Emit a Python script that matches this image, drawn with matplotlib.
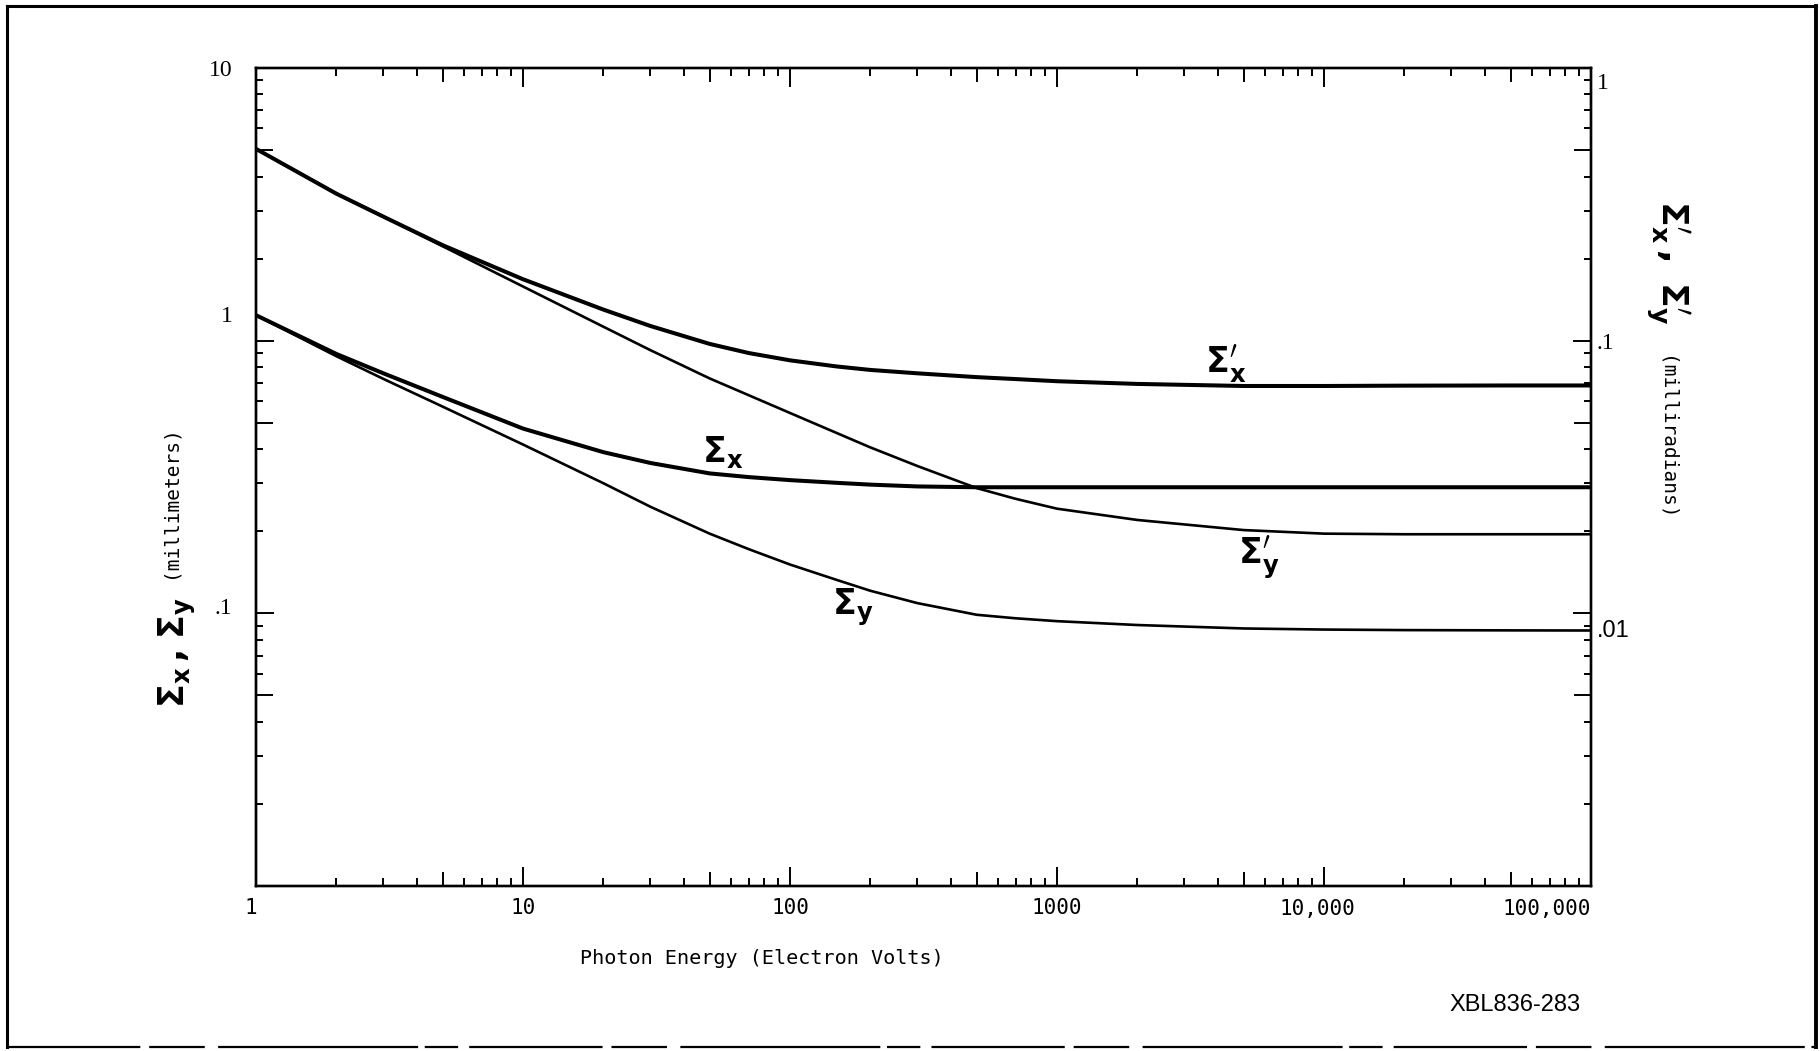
import matplotlib
matplotlib.use("Agg")
import numpy as np
import matplotlib.pyplot as plt
from matplotlib.lines import Line2D
from matplotlib.ticker import FixedLocator, NullFormatter
from matplotlib.transforms import ScaledTranslation

plt.rcParams["mathtext.fontset"] = "dejavusans"

# photon energy (eV)
energy = [1, 2, 3, 5, 10, 20, 30, 50, 70, 100, 150, 200, 300, 500, 700,
          1000, 2000, 5000, 10000, 20000, 50000, 100000]
# source size, mm (left axis)
sigma_x = [1.24, 0.894, 0.759, 0.622, 0.476, 0.390, 0.356, 0.326, 0.316, 0.308, 0.301,
           0.2965, 0.292, 0.290, 0.290, 0.290, 0.290, 0.290, 0.290, 0.290, 0.290, 0.290]
sigma_y = [1.24, 0.877, 0.724, 0.573, 0.416, 0.300, 0.246, 0.196, 0.172, 0.151, 0.1325,
           0.121, 0.109, 0.0988, 0.0959, 0.0936, 0.0906, 0.0880, 0.0872, 0.0868, 0.0866, 0.0865]
# divergence, mrad (right axis)
sigma_xp = [0.505, 0.346, 0.285, 0.224, 0.168, 0.130, 0.1132, 0.0973, 0.0901, 0.0847, 0.0804,
            0.0781, 0.0759, 0.0735, 0.0723, 0.0710, 0.0694, 0.0682, 0.0682, 0.0684, 0.0685, 0.0685]
sigma_yp = [0.505, 0.346, 0.285, 0.222, 0.158, 0.1125, 0.0923, 0.0727, 0.0631, 0.0543, 0.0458,
            0.0406, 0.0347, 0.0288, 0.0263, 0.0242, 0.0220, 0.0202, 0.0196, 0.0195, 0.0195, 0.0195]

x_ticks = [1, 10, 100, 1000, 10000, 100000]
x_labels = ["1", "10", "100", "1000", "10,000", "100,000"]
left_ticks = [0.01, 0.1, 1, 10]
left_labels = ["", ".1", "1", "10"]
right_ticks = [0.001, 0.01, 0.1, 1]
right_labels = ["", ".01", ".1", "1"]

MONO = "DejaVu Sans Mono"
SERIF = "Liberation Serif"
SANS = "Liberation Sans"
W, H = 1820, 1051


def fx(px):
    return px / W


def fy(py):
    return 1 - py / H


def minor_locs(lo, hi):
    return [m * 10.0 ** k for k in range(lo, hi) for m in range(2, 10)]


def stretch_fives(axis, length):
    # the 5-ticks are drawn longer than the other minor ticks
    for loc, t in zip(axis.get_minorticklocs(), axis.get_minor_ticks()):
        m = loc / 10 ** np.floor(np.log10(loc) + 1e-9)
        if abs(m - 5) < 1e-6:
            t.tick1line.set_markersize(length)
            t.tick2line.set_markersize(length)


def nudge(labels, text, dx, dy):
    # the hand-lettered tick labels sit a bit off their ticks
    for lab in labels:
        if lab.get_text() == text:
            lab.set_transform(lab.get_transform() +
                              ScaledTranslation(dx / 100, dy / 100, fig.dpi_scale_trans))


fig = plt.figure(figsize=(W / 100, H / 100), dpi=100)
ax = fig.add_axes([fx(256), fy(886), fx(1591) - fx(256), fy(68) - fy(886)])
ax2 = ax.twinx()

ax.set_xscale("log")
ax.set_yscale("log")
ax2.set_yscale("log")
ax.set_xlim(1, 1e5)
ax.set_ylim(0.01, 10)
ax2.set_ylim(0.001, 1)

ax.plot(energy, sigma_x, color="black", lw=2.9, solid_capstyle="round", solid_joinstyle="round")
ax.plot(energy, sigma_y, color="black", lw=1.9, solid_capstyle="round", solid_joinstyle="round")
ax2.plot(energy, sigma_xp, color="black", lw=2.9, solid_capstyle="round", solid_joinstyle="round")
ax2.plot(energy, sigma_yp, color="black", lw=1.9, solid_capstyle="round", solid_joinstyle="round")

# ---- ticks ----
ax.set_xticks(x_ticks, x_labels, fontfamily=MONO, fontsize=15)
ax.xaxis.set_minor_locator(FixedLocator(minor_locs(0, 5)))
ax.xaxis.set_minor_formatter(NullFormatter())
ax.set_yticks(left_ticks, left_labels, fontfamily=SERIF, fontsize=17)
ax.yaxis.set_minor_locator(FixedLocator(minor_locs(-2, 1)))
ax.yaxis.set_minor_formatter(NullFormatter())
ax2.set_yticks(right_ticks, right_labels, fontfamily=SERIF, fontsize=17)
ax2.yaxis.set_minor_locator(FixedLocator(minor_locs(-3, 0)))
ax2.yaxis.set_minor_formatter(NullFormatter())

ax.tick_params(axis="x", which="both", direction="in", top=True, bottom=True,
               width=1.4, colors="black")
ax.tick_params(axis="x", which="major", length=14, pad=9)
ax.tick_params(axis="x", which="minor", length=6)
ax.tick_params(axis="y", which="both", direction="in", left=True, right=False,
               width=1.4)
ax.tick_params(axis="y", which="major", length=13, pad=17)
ax.tick_params(axis="y", which="minor", length=5)
ax2.tick_params(axis="y", which="both", direction="in", width=1.4)
ax2.tick_params(axis="y", which="major", length=13, pad=4)
ax2.tick_params(axis="y", which="minor", length=5)

for lab in ax2.get_yticklabels():
    if lab.get_text() == ".01":
        lab.set_fontfamily(SANS)
for lab in ax.get_xticklabels():
    if lab.get_text() == "100,000":
        lab.set_horizontalalignment("right")

nudge(ax.get_yticklabels(), "1", 0, 27)
nudge(ax.get_yticklabels(), ".1", 0, 7)
nudge(ax2.get_yticklabels(), "1", 0, -13)
nudge(ax2.get_yticklabels(), ".01", 0, -15)
nudge(ax.get_xticklabels(), "1", -5, 0)
nudge(ax.get_xticklabels(), "10,000", -7, 0)

stretch_fives(ax.xaxis, 10)
stretch_fives(ax.yaxis, 12)
stretch_fives(ax2.yaxis, 12)

for a in (ax, ax2):
    for s in a.spines.values():
        s.set_linewidth(1.7)

# ---- curve labels ----
lab_kw = dict(fontsize=25, color="black", ha="left", va="baseline")
ax.text(3580, 0.768, r"$\mathbf{\Sigma}_{\mathbf{x}}'$", **lab_kw)
ax.text(4760, 0.153, r"$\mathbf{\Sigma}_{\mathbf{y}}'$", **lab_kw)
ax.text(46.8, 0.359, r"$\mathbf{\Sigma}_{\mathbf{x}}$", **lab_kw)
ax.text(143.6, 0.0987, r"$\mathbf{\Sigma}_{\mathbf{y}}$", **lab_kw)

# ---- axis titles ----
fig.text(fx(177), fy(708),
         r"$\mathbf{\Sigma}_{\mathbf{x}}\,\mathbf{,}\;\mathbf{\Sigma}_{\mathbf{y}}$",
         rotation=90, ha="center", va="bottom", fontsize=25)
fig.text(fx(170), fy(578), "(millimeters)", rotation=90, ha="center", va="bottom",
         fontfamily=MONO, fontsize=14)
fig.text(fx(1668), fy(200),
         r"$\mathbf{\Sigma}_{\mathbf{x}}'\,\mathbf{,}\;\;\mathbf{\Sigma}_{\mathbf{y}}'$",
         rotation=270, ha="center", va="top", fontsize=26)
fig.text(fx(1666), fy(356), "(milliradians)", rotation=270, ha="center", va="top",
         fontfamily=MONO, fontsize=14)
fig.text(fx(580), fy(958), "Photon Energy (Electron Volts)", ha="left", va="center",
         fontfamily=MONO, fontsize=14.5)
fig.text(fx(1581), fy(1005), "XBL836-283", ha="right", va="center",
         fontfamily=["Liberation Sans Narrow", SANS], fontsize=17)

# ---- page frame of the scanned figure ----
frame = dict(color="black", transform=fig.transFigure)
fig.add_artist(Line2D([fx(7), fx(1816)], [fy(6), fy(6)], lw=2.2, **frame))
fig.add_artist(Line2D([fx(7), fx(7)], [fy(6), fy(1047)], lw=2.2, **frame))
fig.add_artist(Line2D([fx(1816), fx(1816)], [fy(6), fy(1047)], lw=2.8, **frame))
fig.add_artist(Line2D([fx(7), fx(1816)], [fy(1047), fy(1047)], lw=1.6,
                      linestyle=(0, (60, 4, 25, 6, 90, 3, 15, 5)), **frame))

fig.savefig("out.png", dpi=100, facecolor="white")
